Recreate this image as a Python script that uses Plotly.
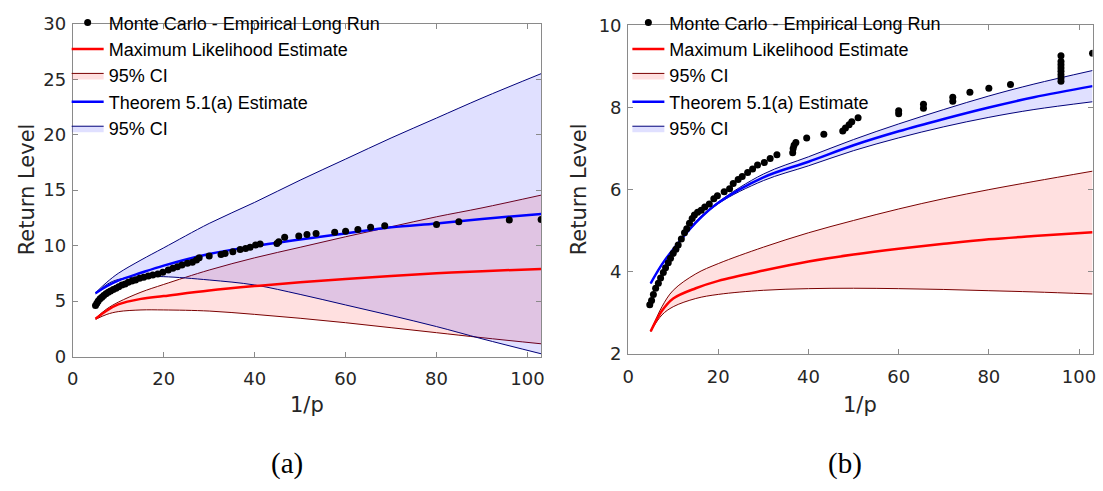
import plotly.graph_objects as go

# Return periods (1/p) at which the fitted return-level curves are tabulated
rp_grid = [5, 7.5, 10, 15, 20, 30, 40, 50, 60, 70, 80, 90, 103]

# ---------------- Panel (a) ----------------
a_mle = [3.4, 4.15, 4.7, 5.2, 5.45, 5.95, 6.35, 6.7, 7.0, 7.25, 7.5, 7.7, 7.9]
a_mle_lo = [3.35, 3.8, 4.05, 4.2, 4.2, 4.1, 3.8, 3.45, 3.05, 2.6, 2.15, 1.7, 1.15]
a_mle_hi = [3.45, 4.3, 4.9, 5.8, 6.5, 7.8, 8.9, 9.85, 10.8, 11.7, 12.6, 13.4, 14.55]
a_thm = [5.7, 6.35, 6.85, 7.55, 8.2, 9.25, 9.95, 10.55, 11.1, 11.65, 12.0, 12.4, 12.85]
a_thm_lo = [5.65, 6.5, 6.95, 7.2, 7.2, 6.9, 6.45, 5.6, 4.65, 3.7, 2.7, 1.6, 0.25]
a_thm_hi = [5.75, 6.7, 7.5, 8.7, 9.8, 12.0, 13.9, 15.9, 17.8, 19.7, 21.5, 23.3, 25.5]
a_emp_x = [5.0, 5.3, 5.6, 6.0, 6.4, 6.8, 7.3, 7.8, 8.3, 8.9, 9.5, 10.1, 10.8, 11.5,
           12.2, 13.0, 13.8, 14.7, 15.6, 16.6, 17.6, 18.7, 19.8, 21.0, 22.0, 23.0,
           24.0, 25.2, 26.3, 27.2, 27.8, 30.0, 32.6, 33.5, 35.2, 36.8, 38.0, 39.0,
           40.2, 41.2, 44.9, 45.3, 46.6, 49.7, 51.5, 53.5, 57.6, 60.0, 62.7, 65.5,
           68.6, 80.0, 84.9, 96.0, 103.0]
a_emp_y = [4.6, 4.8, 5.0, 5.2, 5.35, 5.5, 5.65, 5.8, 5.9, 6.05, 6.15, 6.3, 6.45, 6.55,
           6.7, 6.8, 6.9, 7.05, 7.15, 7.25, 7.35, 7.45, 7.6, 7.8, 7.95, 8.1,
           8.25, 8.4, 8.5, 8.7, 8.9, 9.06, 9.2, 9.3, 9.45, 9.65, 9.75, 9.85,
           10.05, 10.15, 10.2, 10.35, 10.75, 10.87, 11.0, 11.1, 11.2, 11.3, 11.45, 11.65,
           11.8, 11.9, 12.15, 12.3, 12.35]

# ---------------- Panel (b) ----------------
b_mle = [2.55, 3.05, 3.35, 3.6, 3.78, 4.03, 4.25, 4.42, 4.56, 4.68, 4.79, 4.87, 4.96]
b_mle_lo = [2.55, 2.95, 3.15, 3.35, 3.45, 3.55, 3.59, 3.6, 3.59, 3.57, 3.54, 3.51, 3.46]
b_mle_hi = [2.55, 3.15, 3.55, 3.95, 4.2, 4.6, 4.95, 5.25, 5.53, 5.78, 6.0, 6.2, 6.45]
b_thm = [3.72, 4.18, 4.55, 5.2, 5.68, 6.3, 6.68, 7.08, 7.42, 7.72, 8.0, 8.25, 8.52]
b_thm_lo = [3.72, 4.17, 4.54, 5.18, 5.66, 6.22, 6.58, 6.95, 7.26, 7.53, 7.76, 7.95, 8.14]
b_thm_hi = [3.72, 4.19, 4.56, 5.22, 5.7, 6.38, 6.8, 7.22, 7.6, 7.95, 8.28, 8.57, 8.9]
b_emp_x = [4.8, 5.2, 5.6, 6.1, 6.7, 7.2, 7.8, 8.3, 8.9, 9.4, 10.0, 10.6, 11.1, 11.8,
           12.5, 13.0, 13.6, 14.2, 14.7, 15.4, 16.2, 17.0, 18.0, 19.0, 19.8, 21.3,
           22.5, 23.3, 24.4, 25.3, 26.5, 27.6, 28.7, 30.2, 31.5, 33.0, 36.5, 36.6,
           36.8, 37.2, 39.6, 43.4, 47.6, 48.2, 49.0, 49.6, 51.0, 60.0, 60.0, 65.5,
           65.5, 72.0, 72.0, 75.8, 80.0, 84.8, 96, 96, 96, 96, 96, 96, 96, 96, 103]
b_emp_y = [3.2, 3.3, 3.45, 3.6, 3.72, 3.85, 3.98, 4.1, 4.22, 4.33, 4.45, 4.55, 4.65, 4.8,
           4.95, 5.05, 5.18, 5.3, 5.38, 5.45, 5.5, 5.58, 5.65, 5.78, 5.85, 5.95,
           6.02, 6.15, 6.25, 6.32, 6.42, 6.5, 6.6, 6.66, 6.76, 6.85, 6.9, 7.0,
           7.08, 7.15, 7.26, 7.35, 7.43, 7.5, 7.58, 7.65, 7.75, 7.85, 7.92, 7.98,
           8.08, 8.15, 8.25, 8.37, 8.47, 8.56, 8.64, 8.72, 8.8, 8.88, 8.96, 9.04, 9.12, 9.26, 9.32]

LEG_FONT = "Liberation Sans, Arial, sans-serif"
AX_FONT = "DejaVu Sans, sans-serif"
TXT = "#262626"
PINK_FILL = "rgba(255,0,0,0.12)"
BLUE_FILL = "rgba(0,0,255,0.12)"

fig = go.Figure()


def add_band(xa, ya, leg, lo, hi, fill, edge, rank):
    # lower edge first, then the upper edge filled down to it
    fig.add_trace(go.Scatter(
        x=rp_grid, y=lo, mode="lines", line=dict(color=edge, width=1, shape="spline"),
        showlegend=False, hoverinfo="skip", xaxis=xa, yaxis=ya))
    fig.add_trace(go.Scatter(
        x=rp_grid, y=hi, mode="lines", fill="tonexty", fillcolor=fill,
        line=dict(color=edge, width=1, shape="spline"),
        name="95% CI", legend=leg, legendrank=rank, xaxis=xa, yaxis=ya))


def add_panel(xa, ya, leg, mle, mle_lo, mle_hi, thm, thm_lo, thm_hi, ex, ey):
    add_band(xa, ya, leg, mle_lo, mle_hi, PINK_FILL, "#7a0000", 3)
    add_band(xa, ya, leg, thm_lo, thm_hi, BLUE_FILL, "#00007a", 5)
    fig.add_trace(go.Scatter(
        x=rp_grid, y=mle, mode="lines", line=dict(color="#ff0000", width=2.5, shape="spline"),
        name="Maximum Likelihood Estimate", legend=leg, legendrank=2, xaxis=xa, yaxis=ya))
    fig.add_trace(go.Scatter(
        x=rp_grid, y=thm, mode="lines", line=dict(color="#0000ff", width=2.5, shape="spline"),
        name="Theorem 5.1(a) Estimate", legend=leg, legendrank=4, xaxis=xa, yaxis=ya))
    fig.add_trace(go.Scatter(
        x=ex, y=ey, mode="markers", marker=dict(color="black", size=7),
        name="Monte Carlo - Empirical Long Run", legend=leg, legendrank=1,
        xaxis=xa, yaxis=ya))


add_panel("x", "y", "legend", a_mle, a_mle_lo, a_mle_hi, a_thm, a_thm_lo, a_thm_hi,
          a_emp_x, a_emp_y)
add_panel("x2", "y2", "legend2", b_mle, b_mle_lo, b_mle_hi, b_thm, b_thm_lo, b_thm_hi,
          b_emp_x, b_emp_y)

axis_common = dict(
    showline=True, linecolor="#8a8a8a", linewidth=1, mirror="ticks",
    ticks="inside", ticklen=5, tickcolor="#8a8a8a", showgrid=False, zeroline=False,
    tickfont=dict(family=AX_FONT, size=18, color=TXT),
)
x_ticks = [0, 20, 40, 60, 80, 100]
legend_common = dict(
    xanchor="left", yanchor="top", bgcolor="rgba(0,0,0,0)", traceorder="normal",
    font=dict(family=LEG_FONT, size=18, color="black"), tracegroupgap=0, itemwidth=32,
)

fig.update_layout(
    width=1103, height=491, margin=dict(l=0, r=0, t=0, b=0),
    paper_bgcolor="white", plot_bgcolor="white",
    xaxis=dict(domain=[0.0611, 0.4896], range=[0, 103], tickvals=x_ticks,
               ticklabelstandoff=6, anchor="y", **axis_common),
    yaxis=dict(domain=[0.2648, 0.9729], range=[0, 30], tickvals=[0, 5, 10, 15, 20, 25, 30],
               ticklabelstandoff=2, anchor="x", **axis_common),
    xaxis2=dict(domain=[0.5692, 0.9941], range=[0, 103], tickvals=x_ticks,
                ticklabelstandoff=6, anchor="y2", **axis_common),
    yaxis2=dict(domain=[0.2703, 0.9695], range=[2, 10], tickvals=[2, 4, 6, 8, 10],
                ticklabelstandoff=2, anchor="x2", **axis_common),
    legend=dict(x=0.0555, y=1.014, **legend_common),
    legend2=dict(x=0.5685, y=1.014, **legend_common),
)

title_font = dict(family=AX_FONT, size=21, color=TXT)
cap_font = dict(family="Liberation Serif, Times New Roman, serif", size=29, color="black")
annos = [
    dict(text="Return Level", x=0.019, y=0.62, textangle=-90, font=title_font),
    dict(text="Return Level", x=0.524, y=0.62, textangle=-90, font=title_font),
    dict(text="1/p", x=0.2753, y=0.162, font=title_font),
    dict(text="1/p", x=0.7815, y=0.162, font=title_font),
    dict(text="(a)", x=0.2575, y=0.038, font=cap_font),
    dict(text="(b)", x=0.768, y=0.038, font=cap_font),
]
for a in annos:
    fig.add_annotation(xref="paper", yref="paper", showarrow=False,
                       xanchor="center", yanchor="middle", **a)

fig.write_html("out.html")
